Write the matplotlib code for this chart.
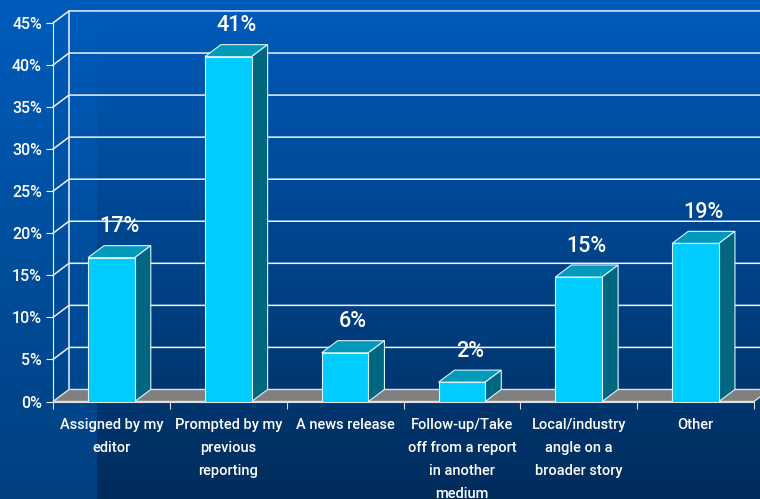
import numpy as np
import matplotlib.pyplot as plt
from matplotlib.patches import Polygon

categories = ["Assigned by my\neditor", "Prompted by my\nprevious\nreporting",
              "A news release", "Follow-up/Take\noff from a report\nin another\nmedium",
              "Local/industry\nangle on a\nbroader story", "Other"]
values = [17.1, 41.0, 5.8, 2.3, 14.8, 18.8]
value_labels = ["17%", "41%", "6%", "2%", "15%", "19%"]
y_ticks = [0, 5, 10, 15, 20, 25, 30, 35, 40, 45]

plt.rcParams['font.family'] = ['Roboto', 'DejaVu Sans']
plt.rcParams['font.weight'] = 'medium'

W, H = 760, 499
fig = plt.figure(figsize=(W / 100, H / 100), dpi=100)

# slide background: vertical gradient, lighter strip on the left
bg = fig.add_axes([0, 0, 1, 1], zorder=-10)
t = np.linspace(0, 1, H)[:, None]
top = np.array([0, 92, 188]) / 255
bot = np.array([0, 44, 92]) / 255
bot_left = np.array([0, 64, 128]) / 255
img = np.zeros((H, W, 3))
img[:] = (top + (bot - top) * t[..., None])[:, :, :]
strip = top + (bot_left - top) * t
img[:, :97] = strip[:, None, :]
bg.imshow(img, extent=[0, W, 0, H], aspect='auto', origin='upper')
bg.axis('off')

ax = fig.add_axes([53 / W, 97.5 / H, 701 / W, 378.5 / H])
ax.patch.set_alpha(0)
n = len(values)
ax.set_xlim(0, n)
ax.set_ylim(0, 45)

dx, dy = 0.137, 1.43   # depth offset in data units
bw = 0.40
grid_c = '#EEF2FA'

# back wall gridlines and side wall diagonals
for v in y_ticks[1:]:
    ax.plot([0, dx, n + dx], [v, v + dy, v + dy], color=grid_c, lw=1.1, clip_on=False, zorder=1)
ax.plot([dx, dx], [dy, 45 + dy], color=grid_c, lw=1.1, clip_on=False, zorder=1)

# floor
ax.add_patch(Polygon([(0, 0), (n, 0), (n + dx, dy), (dx, dy)], closed=True,
                     facecolor='#808080', edgecolor='#E0E0E0', lw=1, clip_on=False, zorder=2))

# bars
xs = np.arange(n) + 0.5
ax.bar(xs, values, width=bw, color='#00CCFF', edgecolor='#D8F4FF', lw=0.8, zorder=4)
for x, v, lab in zip(xs, values, value_labels):
    x0, x1 = x - bw / 2, x + bw / 2
    ax.add_patch(Polygon([(x0, v), (x1, v), (x1 + dx, v + dy), (x0 + dx, v + dy)], closed=True,
                         facecolor='#0399BB', edgecolor='#D8F4FF', lw=0.8, clip_on=False, zorder=3))
    ax.add_patch(Polygon([(x1, 0), (x1 + dx, dy), (x1 + dx, v + dy), (x1, v)], closed=True,
                         facecolor='#01667F', edgecolor='#D8F4FF', lw=0.8, clip_on=False, zorder=3))
    ax.text(x + dx / 2, v + dy + 1.0, lab, ha='center', va='bottom', fontsize=15.5,
            color='white', zorder=5)

for s in ['top', 'right']:
    ax.spines[s].set_visible(False)
ax.spines['left'].set_color(grid_c)
ax.spines['bottom'].set_color('#E0E0E0')
ax.spines['left'].set_zorder(1)

ax.set_yticks(y_ticks)
ax.set_yticklabels([f"{v}%" for v in y_ticks])
ax.set_xticks(np.arange(n + 1))
ax.set_xticklabels([])
ax.set_xticks(xs, minor=True)
ax.set_xticklabels(categories, minor=True, linespacing=1.8)
ax.tick_params(axis='y', colors=grid_c, labelcolor='white', labelsize=11.5, length=5, pad=3)
ax.tick_params(axis='x', which='major', colors='#DDDDDD', length=5)
ax.tick_params(axis='x', which='minor', length=0, labelcolor='white', labelsize=10.5, pad=12)

fig.savefig('out.png', dpi=100)
